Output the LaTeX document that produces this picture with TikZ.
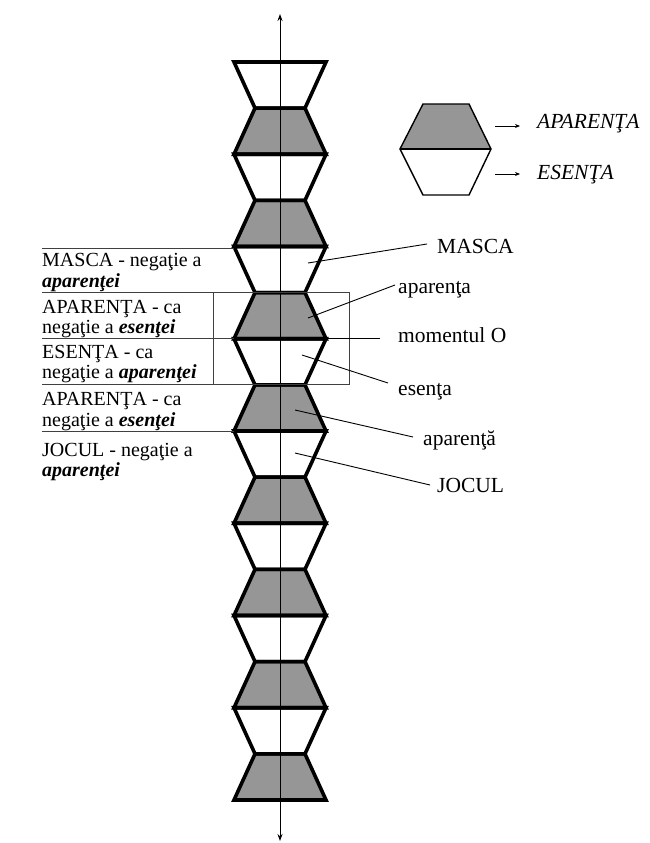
\documentclass[tikz,border=0pt]{standalone}
\usepackage{fontspec}
\setmainfont{Liberation Serif}
\usetikzlibrary{arrows.meta}
\definecolor{segfill}{RGB}{150,150,150}
\begin{document}
\begin{tikzpicture}[x=1pt,y=-1pt,
  seg/.style={fill=segfill},
  chainline/.style={line width=3.6pt, line join=miter},
  axisline/.style={line width=0.9pt, {Stealth[length=7pt,width=5pt]}-{Stealth[length=7pt,width=5pt]}},
  rule/.style={line width=0.8pt, black!75},
  conn/.style={line width=0.9pt},
  lefttxt/.style={anchor=base west, inner sep=0pt, font=\fontsize{20}{22}\selectfont},
  righttxt/.style={anchor=base west, inner sep=0pt, font=\fontsize{21.5}{24}\selectfont},
  legtxt/.style={anchor=base west, inner sep=0pt, font=\fontsize{21.5}{24}\selectfont\itshape},
  legarrow/.style={line width=0.9pt, -{Stealth[length=5pt,width=4pt]}}]
\useasboundingbox (0,0) rectangle (649,843);
% gray segments
\foreach \k in {1,3,...,15} {
  \pgfmathsetmacro\ya{62+46.125*\k}
  \pgfmathsetmacro\yb{62+46.125*(\k+1)}
  \fill[seg] (255,\ya) -- (305,\ya) -- (326,\yb) -- (234,\yb) -- cycle;
}
% axis
\coordinate (axtop) at (280,14);
\coordinate (axbot) at (280,841);
\draw[axisline] (axtop) -- (axbot);
% chain outline
\foreach \k in {0,...,15} {
  \pgfmathsetmacro\ya{62+46.125*\k}
  \pgfmathsetmacro\yb{62+46.125*(\k+1)}
  \pgfmathtruncatemacro\odd{mod(\k,2)}
  \ifnum\odd=1
    \draw[chainline] (255,\ya) -- (305,\ya) -- (326,\yb) -- (234,\yb) -- cycle;
  \else
    \draw[chainline] (234,\ya) -- (326,\ya) -- (305,\yb) -- (255,\yb) -- cycle;
  \fi
}
% box around moment O
\draw[rule] (213,292) rectangle (349,384);
% left rules
\draw[rule] (42,248) -- (234,248);
\draw[rule] (42,292) -- (213,292);
\draw[rule] (42,338.75) -- (234,338.75);
\draw[rule] (42,384) -- (213,384);
\draw[rule] (42,431) -- (234,431);
% left texts
\node[lefttxt] (t1a) at (42,266) {MASCA - negaţie a};
\node[lefttxt] (t1b) at (42,287) {\textbf{\textit{aparenţei}}};
\node[lefttxt] (t2a) at (42,313) {APARENŢA - ca};
\node[lefttxt] (t2b) at (42,333) {negaţie a \textbf{\textit{esenţei}}};
\node[lefttxt] (t3a) at (42,358) {ESENŢA - ca};
\node[lefttxt] (t3b) at (42,378) {negaţie a \textbf{\textit{aparenţei}}};
\node[lefttxt] (t4a) at (42,405) {APARENŢA - ca};
\node[lefttxt] (t4b) at (42,426) {negaţie a \textbf{\textit{esenţei}}};
\node[lefttxt] (t5a) at (42,456) {JOCUL - negaţie a};
\node[lefttxt] (t5b) at (42,476) {\textbf{\textit{aparenţei}}};
% right labels
\node[righttxt] (lmasca) at (437,253) {MASCA};
\node[righttxt] (lapar1) at (398,293) {aparenţa};
\node[righttxt] (lmom) at (398,342) {momentul O};
\node[righttxt] (lesen) at (398,395) {esenţa};
\node[righttxt] (lapar2) at (423,445) {aparenţă};
\node[righttxt] (ljoc) at (437,492) {JOCUL};
% connectors
\coordinate (cmasca) at (308,263);   \coordinate (emasca) at (427,244);
\coordinate (capar1) at (308,318);   \coordinate (eapar1) at (395,285);
\coordinate (cmom) at (326,338.75);  \coordinate (emom) at (380,338.75);
\coordinate (cesen) at (302,355);    \coordinate (eesen) at (388,383);
\coordinate (capar2) at (295,410);   \coordinate (eapar2) at (413,437);
\coordinate (cjoc) at (295,453);     \coordinate (ejoc) at (430,485);
\draw[conn] (cmasca) -- (emasca);
\draw[conn] (capar1) -- (eapar1);
\draw[conn] (cmom) -- (emom);
\draw[conn] (cesen) -- (eesen);
\draw[conn] (capar2) -- (eapar2);
\draw[conn] (cjoc) -- (ejoc);
% legend
\fill[segfill] (423,104) -- (469,104) -- (491,149) -- (400,149) -- cycle;
\draw[line width=1.4pt, line join=miter] (423,104) -- (469,104) -- (491,149) -- (469,195) -- (423,195) -- (400,149) -- cycle;
\draw[line width=2.4pt] (400,149) -- (491,149);
\coordinate (la1) at (495,126); \coordinate (la2) at (520,126);
\coordinate (lb1) at (495,174); \coordinate (lb2) at (520,174);
\draw[legarrow] (la1) -- (la2);
\draw[legarrow] (lb1) -- (lb2);
\node[legtxt] (lgapar) at (537,128) {APARENŢA};
\node[legtxt] (lgesen) at (537,179) {ESENŢA};
\end{tikzpicture}
\end{document}
